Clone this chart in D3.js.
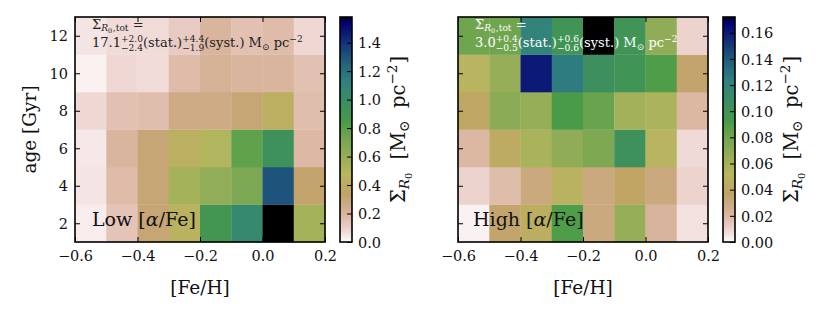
<!DOCTYPE html>
<html>
<head>
<meta charset="utf-8">
<script src="https://cdn.jsdelivr.net/npm/d3@7"></script>
<style>
  body { margin: 0; background: #fff; }
  svg { display: block; }
  text { font-family: "DejaVu Serif", serif; white-space: pre; }
</style>
</head>
<body>
<svg id="fig" width="831" height="317" font-family="DejaVu Serif"></svg>
<script>
// bin edges
const fehEdges = [-0.6, -0.5, -0.4, -0.3, -0.2, -0.1, 0.0, 0.1, 0.2];
const ageEdges = [1, 3, 5, 7, 9, 11, 13];

// surface density per bin, rows from youngest (1-3 Gyr) to oldest (11-13 Gyr)
const lowAlpha = [
  [0.03, 0.14, 0.30, 0.45, 0.90, 1.05, 1.58, 0.55],
  [0.05, 0.17, 0.30, 0.55, 0.62, 0.70, 1.30, 0.32],
  [0.04, 0.20, 0.30, 0.42, 0.50, 0.78, 0.95, 0.18],
  [0.08, 0.15, 0.16, 0.26, 0.26, 0.30, 0.42, 0.16],
  [0.02, 0.08, 0.07, 0.17, 0.22, 0.20, 0.20, 0.15],
  [0.05, 0.07, 0.07, 0.12, 0.20, 0.15, 0.17, 0.08]
];
const highAlpha = [
  [0.002, 0.035, 0.045, 0.090, 0.030, 0.065, 0.022, 0.006],
  [0.010, 0.018, 0.030, 0.048, 0.030, 0.038, 0.030, 0.010],
  [0.020, 0.042, 0.058, 0.068, 0.075, 0.103, 0.050, 0.008],
  [0.040, 0.070, 0.065, 0.092, 0.082, 0.060, 0.057, 0.020],
  [0.050, 0.065, 0.160, 0.125, 0.105, 0.100, 0.090, 0.035],
  [0.080, 0.080, 0.120, 0.100, 0.172, 0.100, 0.068, 0.010]
];

const lowMax = 1.58, highMax = 0.172;
const lowCbarTicks = [0, 0.2, 0.4, 0.6, 0.8, 1.0, 1.2, 1.4];
const highCbarTicks = [0, 0.02, 0.04, 0.06, 0.08, 0.10, 0.12, 0.14, 0.16];
const xTicks = [-0.6, -0.4, -0.2, 0, 0.2];
const yTicks = [2, 4, 6, 8, 10, 12];

// matplotlib gist_earth segment data
const gistEarth = {
  r: [[0,0],[0.2824,0.1882],[0.4588,0.2714],[0.5490,0.4719],[0.6980,0.7176],[0.7882,0.7553],[1,0.9922]],
  g: [[0,0],[0.0275,0],[0.1098,0.1893],[0.1647,0.3035],[0.2078,0.3841],[0.2824,0.5020],[0.5216,0.6397],
      [0.6980,0.7171],[0.7882,0.6392],[0.7922,0.6413],[0.8000,0.6447],[0.8078,0.6481],[0.8157,0.6549],
      [0.8667,0.6991],[0.8745,0.7103],[0.8824,0.7216],[0.8902,0.7323],[0.8980,0.7430],[0.9412,0.8275],
      [0.9569,0.8635],[0.9647,0.8816],[0.9961,0.9733],[1,0.9843]],
  b: [[0,0],[0.0039,0.1684],[0.0078,0.2212],[0.0275,0.4329],[0.0314,0.4549],[0.2824,0.5004],
      [0.4667,0.2748],[0.5451,0.3205],[0.7843,0.3961],[0.8941,0.6651],[1,0.9843]]
};

function seg(data, x) {
  for (let i = 0; i < data.length - 1; i++) {
    if (x <= data[i + 1][0]) {
      const t = (x - data[i][0]) / (data[i + 1][0] - data[i][0]);
      return data[i][1] + t * (data[i + 1][1] - data[i][1]);
    }
  }
  return data[data.length - 1][1];
}

// reversed map: 0 -> white-ish, 1 -> black
function earthR(t) {
  const x = 1 - Math.max(0, Math.min(1, t));
  return d3.rgb(seg(gistEarth.r, x) * 255, seg(gistEarth.g, x) * 255, seg(gistEarth.b, x) * 255).toString();
}

const svg = d3.select("#fig");
const FONT = "DejaVu Serif";
const TICK_FS = 14.5, LABEL_FS = 18.5;

// lay out a line of text pieces (sub/superscripts) left to right
function mathText(parent, items, fs, fill) {
  const g = parent.append("g");
  let x = 0;
  function put(it, x0) {
    const t = g.append("text")
      .attr("x", x0)
      .attr("y", (it.dy || 0) * fs)
      .attr("font-family", FONT)
      .attr("font-size", fs * (it.s || 1))
      .attr("fill", fill)
      .attr("font-style", it.i ? "italic" : null)
      .text(it.t);
    return t.node().getComputedTextLength() + (it.gap || 0) * fs;
  }
  items.forEach(it => {
    if (it.stack) {
      const w = it.stack.map(s => put(s, x));
      x += Math.max(...w);
    } else {
      x += put(it, x);
    }
  });
  g.width = x;
  return g;
}

const n = t => ({ t });
const sup = t => ({ t, s: 0.7, dy: -0.4 });
const sub = t => ({ t, s: 0.7, dy: 0.22 });
const pm = (a, b) => ({ stack: [{ t: a, s: 0.7, dy: -0.38 }, { t: b, s: 0.7, dy: 0.3 }] });
const sigmaR0 = [n("Σ"), { t: "R", i: true, s: 0.7, dy: 0.2 }, { t: "0", s: 0.5, dy: 0.34, gap: 0.05 }];

const cbarLabel = [n("Σ"), { t: "R", i: true, s: 0.7, dy: 0.22 }, { t: "0", s: 0.5, dy: 0.38, gap: 0.05 },
  n("  [M"), sub("⊙"), n("  pc"), { t: "−2", s: 0.7, dy: -0.4, gap: 0.05 }, n("]")];

function styleAxis(a) {
  a.attr("font-family", FONT);
  a.select(".domain").remove();
  a.selectAll("line").attr("stroke", "#000").attr("stroke-width", 1);
  a.selectAll("text").attr("font-size", TICK_FS).attr("font-family", FONT).attr("fill", "#111");
}

function panel(opt) {
  const x0 = opt.left, x1 = opt.left + 250, y0 = 17, y1 = 242;
  const x = d3.scaleLinear().domain([-0.6, 0.2]).range([x0, x1]);
  const y = d3.scaleLinear().domain([1, 13]).range([y1, y0]);
  const color = v => earthR(v / opt.vmax);
  const g = svg.append("g");

  // cells
  opt.data.forEach((row, j) => {
    row.forEach((v, i) => {
      g.append("rect")
        .attr("x", x(fehEdges[i]))
        .attr("y", y(ageEdges[j + 1]))
        .attr("width", x(fehEdges[i + 1]) - x(fehEdges[i]) + 0.3)
        .attr("height", y(ageEdges[j]) - y(ageEdges[j + 1]) + 0.3)
        .attr("fill", color(v));
    });
  });

  // axes, ticks inward on all sides
  const fmtX = d3.format(".1f");
  const bottom = g.append("g").attr("transform", `translate(0,${y1})`)
    .call(d3.axisBottom(x).tickValues(xTicks).tickSizeInner(-5).tickSizeOuter(0).tickPadding(9).tickFormat(fmtX));
  const top = g.append("g").attr("transform", `translate(0,${y0})`)
    .call(d3.axisTop(x).tickValues(xTicks).tickSizeInner(-5).tickSizeOuter(0).tickFormat(""));
  const left = g.append("g").attr("transform", `translate(${x0},0)`)
    .call(d3.axisLeft(y).tickValues(yTicks).tickSizeInner(-5).tickSizeOuter(0).tickPadding(7)
      .tickFormat(opt.yLabels ? d3.format("d") : ""));
  const right = g.append("g").attr("transform", `translate(${x1},0)`)
    .call(d3.axisRight(y).tickValues(yTicks).tickSizeInner(-5).tickSizeOuter(0).tickFormat(""));
  [bottom, top, left, right].forEach(styleAxis);
  left.selectAll("text").attr("dy", "0.36em");

  g.append("rect").attr("x", x0).attr("y", y0).attr("width", x1 - x0).attr("height", y1 - y0)
    .attr("fill", "none").attr("stroke", "#000").attr("stroke-width", 1.6);

  // axis labels
  const xl = mathText(g, [n("[Fe/H]")], LABEL_FS, "#111");
  xl.attr("transform", `translate(${(x0 + x1) / 2 - xl.width / 2},294)`);
  if (opt.yLabels) {
    const yl = mathText(g, [n("age [Gyr]")], LABEL_FS, "#111");
    yl.attr("transform", `translate(36,${(y0 + y1) / 2}) rotate(-90) translate(${-yl.width / 2},0)`);
  }

  // annotation
  const AFS = 13;
  const a1 = mathText(g, [...sigmaR0, { t: ",tot", s: 0.7, dy: 0.2 }, n(" =")], AFS, opt.annColor);
  a1.attr("transform", `translate(${x0 + 17},28.5)`);
  const a2 = mathText(g, [n(opt.tot[0]), pm(opt.tot[1], opt.tot[2]), n("(stat.)"),
    pm(opt.tot[3], opt.tot[4]), n("(syst.) M"), sub("⊙"), n(" pc"), sup("−2")], AFS, opt.annColor);
  a2.attr("transform", `translate(${x0 + 17},47)`);

  const tag = mathText(g, [n(opt.tag + " ["), { t: "α", i: true }, n("/Fe]")], 19, "#111");
  tag.attr("transform", `translate(${x0 + opt.tagDx},226)`);

  // colorbar
  const cx = opt.cbar, cw = 12;
  const cy = d3.scaleLinear().domain([0, opt.vmax]).range([y1, y0]);
  const gid = "grad" + opt.tag;
  const grad = svg.append("defs").append("linearGradient").attr("id", gid)
    .attr("x1", 0).attr("y1", 1).attr("x2", 0).attr("y2", 0);
  d3.range(0, 1.0001, 1 / 128).forEach(t => {
    grad.append("stop").attr("offset", t).attr("stop-color", earthR(t));
  });
  g.append("rect").attr("x", cx).attr("y", y0).attr("width", cw).attr("height", y1 - y0)
    .attr("fill", `url(#${gid})`);
  const cax = g.append("g").attr("transform", `translate(${cx + cw},0)`)
    .call(d3.axisRight(cy).tickValues(opt.cbarTicks).tickSizeInner(-5).tickSizeOuter(0).tickPadding(6)
      .tickFormat(d3.format(opt.cbarFmt)));
  styleAxis(cax);
  cax.selectAll("text").attr("dy", "0.36em");
  g.append("rect").attr("x", cx).attr("y", y0).attr("width", cw).attr("height", y1 - y0)
    .attr("fill", "none").attr("stroke", "#000").attr("stroke-width", 1.6);

  const cl = mathText(g, cbarLabel, 19.5, "#111");
  cl.attr("transform", `translate(${opt.cbarLabelX},${(y0 + y1) / 2}) rotate(-90) translate(${-cl.width / 2},0)`);
}

panel({
  left: 75, cbar: 340, cbarLabelX: 405, data: lowAlpha, vmax: lowMax,
  cbarTicks: lowCbarTicks, cbarFmt: ".1f", yLabels: true, annColor: "#222",
  tot: ["17.1", "+2.0", "−2.4", "+4.4", "−1.9"], tag: "Low", tagDx: 17
});
panel({
  left: 458, cbar: 723, cbarLabelX: 798, data: highAlpha, vmax: highMax,
  cbarTicks: highCbarTicks, cbarFmt: ".2f", yLabels: false, annColor: "#fff",
  tot: ["3.0", "+0.4", "−0.5", "+0.6", "−0.6"], tag: "High", tagDx: 15
});
</script>
</body>
</html>
